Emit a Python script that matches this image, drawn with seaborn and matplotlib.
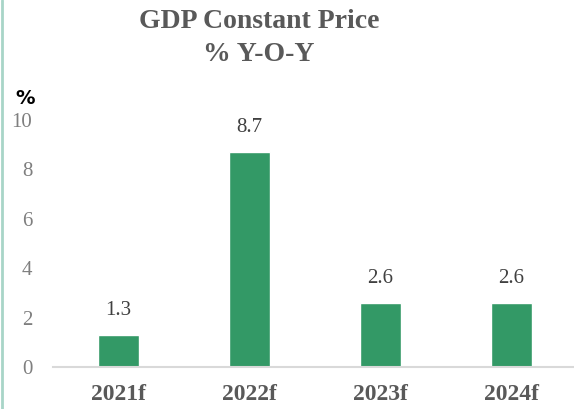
import matplotlib
matplotlib.use('Agg')
import matplotlib.pyplot as plt
from matplotlib.lines import Line2D
import seaborn as sns
import pandas as pd

# data
years = ['2021f', '2022f', '2023f', '2024f']
growth = [1.3, 8.7, 2.6, 2.6]
labels = ['1.3', '8.7', '2.6', '2.6']

df = pd.DataFrame({'year': years, 'growth': growth})

sns.set_style('white')
plt.rcParams['font.family'] = ['Liberation Serif', 'DejaVu Serif']

fig = plt.figure(figsize=(5.74, 4.09), dpi=100)
ax = fig.add_axes([53 / 574, 42 / 409, 524 / 574, 247 / 409])

sns.barplot(data=df, x='year', y='growth', color='#339966', width=0.31,
            saturation=1, ax=ax)

for i, (v, t) in enumerate(zip(growth, labels)):
    ax.annotate(t, (i, v), xytext=(0, 11), textcoords='offset points',
                ha='center', va='bottom', fontsize=15, color='#404040')

ax.set_ylim(0, 10)
ax.set_xlim(-0.5, 3.5)
ax.set_yticks([0, 2, 4, 6, 8, 10])
ax.tick_params(axis='y', length=0, pad=15, labelsize=15, labelcolor='#7f7f7f')
ax.tick_params(axis='x', length=0, pad=12, labelsize=17, labelcolor='#595959')
for lab in ax.get_xticklabels():
    lab.set_fontweight('bold')
ax.set_xticks([0.5, 1.5, 2.5], minor=True)
ax.tick_params(axis='x', which='minor', length=5, width=1.2, color='#d9d9d9', direction='out')

for s in ['top', 'right', 'left']:
    ax.spines[s].set_visible(False)
ax.spines['bottom'].set_color('#d9d9d9')
ax.spines['bottom'].set_linewidth(1.5)
ax.set_xlabel('')
ax.set_ylabel('')

fig.text(259 / 574, 1 - 38 / 409, 'GDP Constant Price\n% Y-O-Y', ha='center', va='center',
         fontsize=20, fontweight='bold', color='#595959', linespacing=1.45)
fig.text(25 / 574, 1 - 98 / 409, '%', ha='center', va='center', fontsize=14,
         fontweight='bold', color='black', family=['DejaVu Sans'])

fig.add_artist(Line2D([2 / 574, 2 / 574], [0, 1], transform=fig.transFigure,
                      color='#a8d5c8', linewidth=2))

fig.savefig('out.png', dpi=100)
